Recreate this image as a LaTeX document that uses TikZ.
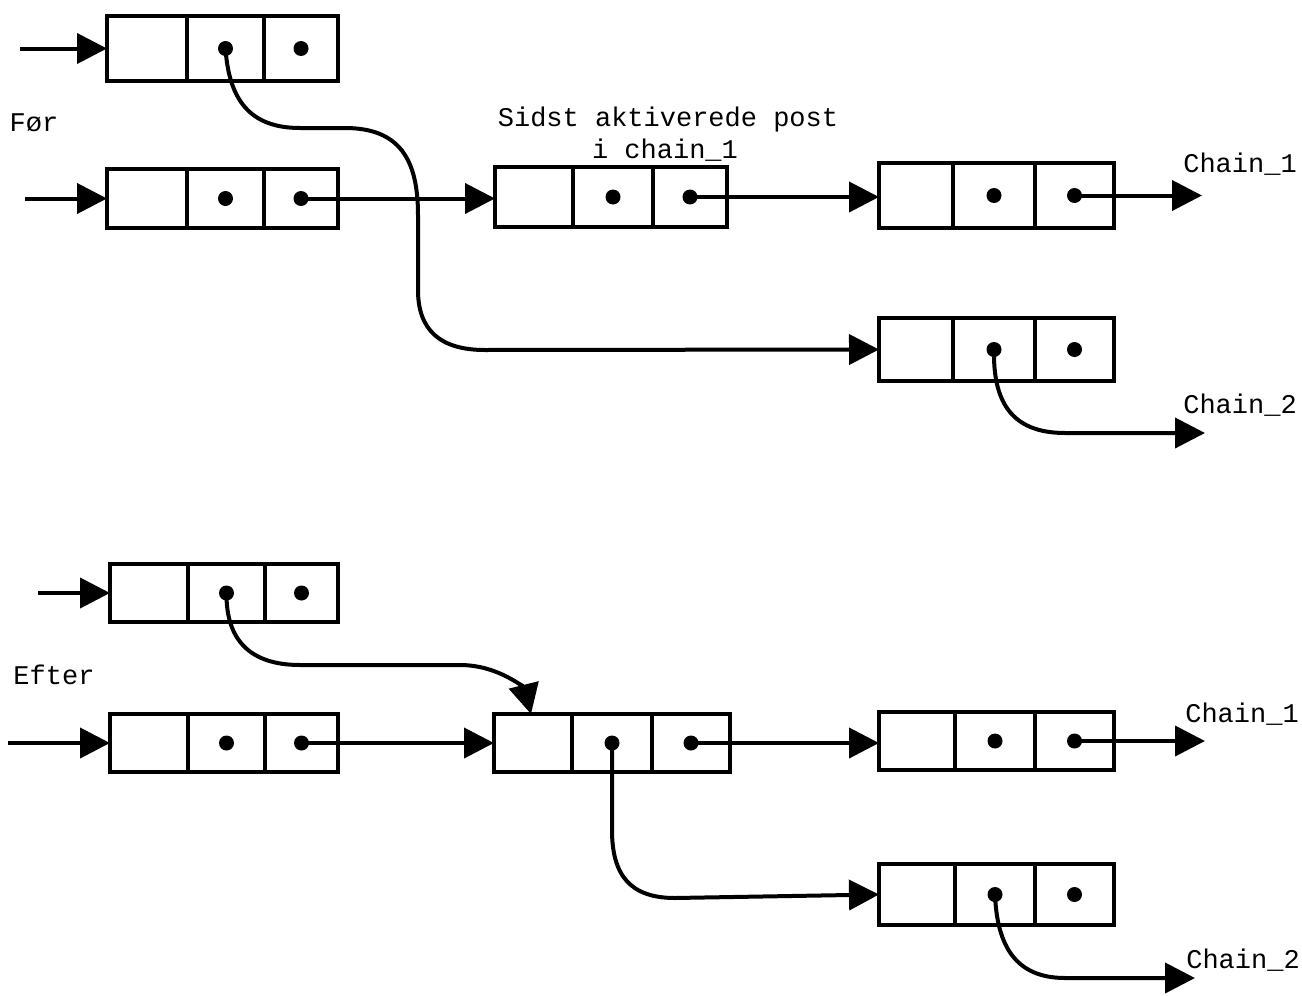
\documentclass[tikz,border=0pt]{standalone}
\usepackage{fontspec}
\setmonofont{Liberation Mono}
\usetikzlibrary{arrows.meta,calc}

% one record of three cells: name, x of the four edges, top and bottom y
\newcommand\recordbox[7]{%
  \node[cellbox, anchor=north west, minimum width={#3-#2}, minimum height={#7-#6}] (#1a) at (#2,-#6) {};
  \node[cellbox, anchor=north west, minimum width={#4-#3}, minimum height={#7-#6}] (#1b) at (#3,-#6) {};
  \node[cellbox, anchor=north west, minimum width={#5-#4}, minimum height={#7-#6}] (#1c) at (#4,-#6) {};
}

\begin{document}
\begin{tikzpicture}[x=1pt,y=1pt,
  cellbox/.style={draw, line width=4.2pt, inner sep=0pt, outer sep=0pt},
  ptr/.style={line width=4pt, -{Triangle[length=30pt,width=30pt]}},
  dotmark/.style={circle, fill, inner sep=0pt, minimum size=15pt},
  lbl/.style={font=\fontsize{27}{32}\selectfont\ttfamily, inner sep=0pt, anchor=base}]
\useasboundingbox (0,0) rectangle (1302,-996);

% ---------- Før ----------
\recordbox{A1}{107}{187}{264}{338}{16}{81}
\recordbox{A2}{107}{187}{264}{338}{169}{228}
\recordbox{B1}{495}{573}{653}{727}{167}{227}
\recordbox{C1}{879}{953}{1035}{1114}{163}{228}
\recordbox{C2}{879}{953}{1035}{1114}{318}{381}

\node[dotmark] (A1bd) at (A1b.center) {};
\node[dotmark] (A1cd) at (A1c.center) {};
\node[dotmark] (A2bd) at (A2b.center) {};
\node[dotmark] (A2cd) at (A2c.center) {};
\node[dotmark] (B1bd) at (B1b.center) {};
\node[dotmark] (B1cd) at (B1c.center) {};
\node[dotmark] (C1bd) at (C1b.center) {};
\node[dotmark] (C1cd) at (C1c.center) {};
\node[dotmark] (C2bd) at (C2b.center) {};
\node[dotmark] (C2cd) at (C2c.center) {};

\coordinate (inA1) at (20,-48);
\coordinate (inA2) at (25,-199);
\coordinate (outC1) at (1202,-196);
\coordinate (outC2) at (1205,-433);

\draw[ptr] (A1a.west -| inA1) -- (A1a.west);
\draw[ptr] (A2a.west -| inA2) -- (A2a.west);
\draw[ptr] (A1bd.center) .. controls (229,-100) and (250,-128) .. (300,-128)
  -- (345,-128) .. controls (400,-128) and (418,-160) .. (418,-215)
  -- (418,-290) .. controls (418,-330) and (440,-350) .. (485,-350)
  -- (C2a.west);
\draw[ptr] (A2cd.center) -- (A2cd.center -| B1a.west);
\draw[ptr] (B1cd.center) -- (B1cd.center -| C1a.west);
\draw[ptr] (C1cd.center) -- (C1cd.center -| outC1);
\draw[ptr] (C2bd.center) .. controls (993,-400) and (1010,-433) .. (1065,-433) -- (outC2);

\node[lbl] (tFoer) at (34,-131) {Før};
\node[lbl] (tSidst) at (668,-126) {Sidst aktiverede post};
\node[lbl] (tChain) at (665,-158) {i chain\_1};
\node[lbl] (tC1a) at (1240,-172) {Chain\_1};
\node[lbl] (tC2a) at (1240,-413) {Chain\_2};

% ---------- Efter ----------
\recordbox{D1}{110}{188}{265}{338}{564}{622}
\recordbox{D2}{110}{188}{265}{338}{714}{772}
\recordbox{E1}{494}{572}{652}{730}{714}{772}
\recordbox{F1}{879}{955}{1035}{1114}{712}{770}
\recordbox{F2}{879}{955}{1035}{1114}{864}{925}

\node[dotmark] (D1bd) at (D1b.center) {};
\node[dotmark] (D1cd) at (D1c.center) {};
\node[dotmark] (D2bd) at (D2b.center) {};
\node[dotmark] (D2cd) at (D2c.center) {};
\node[dotmark] (E1bd) at (E1b.center) {};
\node[dotmark] (E1cd) at (E1c.center) {};
\node[dotmark] (F1bd) at (F1b.center) {};
\node[dotmark] (F1cd) at (F1c.center) {};
\node[dotmark] (F2bd) at (F2b.center) {};
\node[dotmark] (F2cd) at (F2c.center) {};

\coordinate (inD1) at (38,-593);
\coordinate (inD2) at (8,-745);
\coordinate (outF1) at (1205,-741);
\coordinate (outF2) at (1195,-978);

\draw[ptr] (D1a.west -| inD1) -- (D1a.west);
\draw[ptr] (D2a.west -| inD2) -- (D2a.west);
\draw[ptr] (D1bd.center) .. controls (226,-640) and (250,-665) .. (300,-665)
  -- (460,-665) .. controls (500,-665) and (525,-690) .. ($(E1a.north)+(-2,0)$);
\draw[ptr] (D2cd.center) -- (D2cd.center -| E1a.west);
\draw[ptr] (E1bd.center) -- (612,-830) .. controls (612,-875) and (630,-898) .. (675,-898)
  -- (F2a.west);
\draw[ptr] (E1cd.center) -- (E1cd.center -| F1a.west);
\draw[ptr] (F1cd.center) -- (F1cd.center -| outF1);
\draw[ptr] (F2bd.center) .. controls (997,-945) and (1015,-978) .. (1065,-978) -- (outF2);

\node[lbl] (tEfter) at (54,-684) {Efter};
\node[lbl] (tC1b) at (1242,-722) {Chain\_1};
\node[lbl] (tC2b) at (1243,-968) {Chain\_2};
\end{tikzpicture}
\end{document}
